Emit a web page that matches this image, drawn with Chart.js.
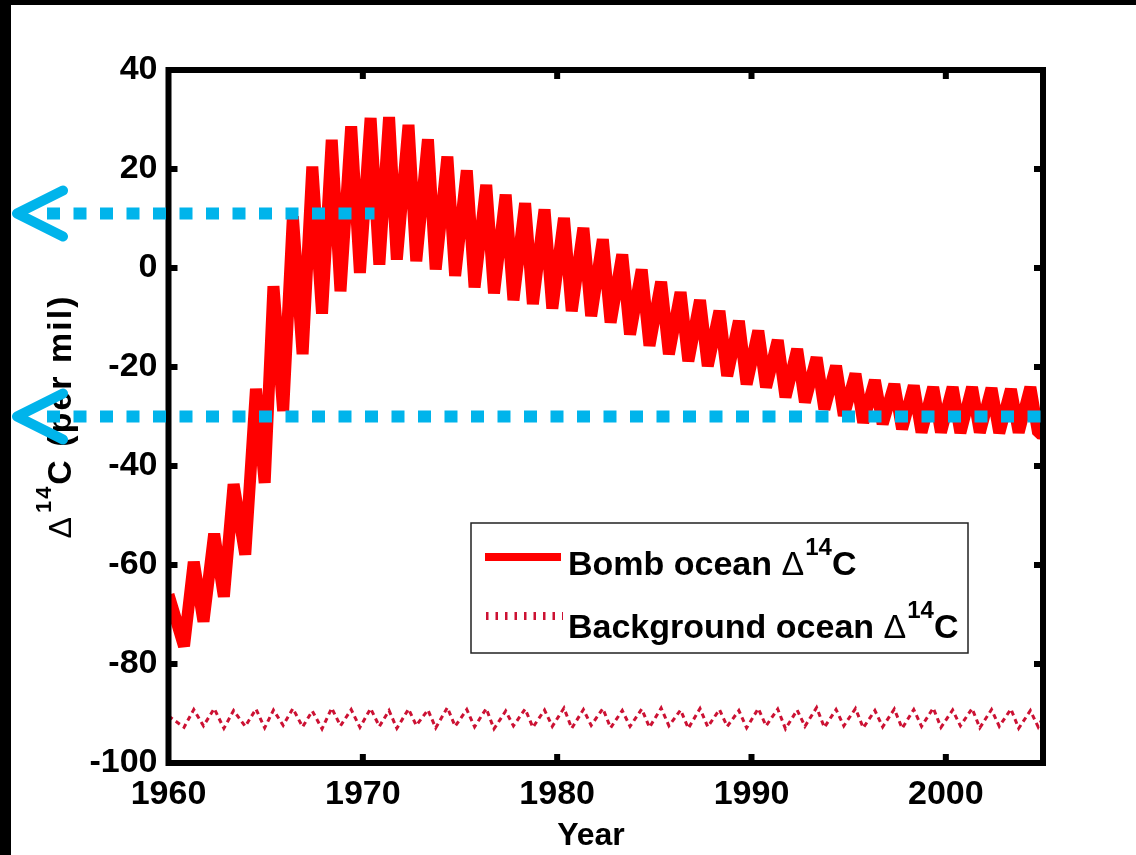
<!DOCTYPE html>
<html><head><meta charset="utf-8">
<script src="https://cdn.jsdelivr.net/npm/chart.js@4.4.0/dist/chart.umd.min.js"></script>
<style>
html,body{margin:0;padding:0;background:#000;width:1136px;height:855px;overflow:hidden;}
#c{position:absolute;left:11px;top:5px;background:#fff;}
</style></head><body>
<canvas id="c" width="1125" height="850"></canvas>
<script>
// ---- data ----
const sampleTimes = [
  1960.0,1960.8,1961.3,1961.8,1962.35,1962.85,1963.35,1963.95,1964.5,1964.95,
  1965.4,1965.9,1966.4,1966.9,1967.4,1967.9,1968.4,1968.85,1969.4,1969.85,
  1970.4,1970.85,1971.35,1971.75,1972.35,1972.75,1973.35,1973.75,1974.35,1974.75,
  1975.35,1975.75,1976.35,1976.75,1977.35,1977.75,1978.35,1978.75,1979.35,1979.75,
  1980.35,1980.75,1981.35,1981.75,1982.35,1982.75,1983.35,1983.75,1984.35,1984.75,
  1985.35,1985.75,1986.35,1986.75,1987.35,1987.75,1988.35,1988.75,1989.35,1989.75,
  1990.35,1990.75,1991.35,1991.75,1992.35,1992.75,1993.35,1993.75,1994.35,1994.75,
  1995.35,1995.75,1996.35,1996.75,1997.35,1997.75,1998.35,1998.75,1999.35,1999.75,
  2000.35,2000.75,2001.35,2001.75,2002.35,2002.75,2003.35,2003.75,2004.35,2004.75,
  2005.0
];
const bombOcean = [
  -66,-76.4,-59.4,-71.4,-53.7,-66.4,-43.7,-57.9,-24.4,-43.4,
  -3.7,-28.9,10.4,-17.4,20.5,-9.2,25.9,-4.7,28.6,-1.0,
  30.3,0.7,30.5,1.7,28.9,1.4,26.0,-0.3,22.5,-1.6,
  19.7,-3.9,16.8,-5.1,14.8,-6.5,13.1,-7.3,11.8,-8.2,
  10.1,-8.7,8.1,-9.7,5.8,-11.0,2.7,-13.4,-0.3,-15.7,
  -2.8,-17.4,-4.9,-18.8,-6.5,-19.8,-8.7,-21.8,-10.7,-23.5,
  -12.7,-24.1,-14.6,-26.1,-16.4,-27.1,-18.1,-28.5,-19.8,-29.8,
  -21.4,-31.2,-22.7,-31.5,-23.5,-32.5,-23.8,-33.2,-24.1,-33.2,
  -24.1,-33.3,-24.1,-33.2,-24.3,-33.3,-24.5,-33.2,-24.1,-33.4,
  -33.5
];
const backgroundOcean = [
  -90.5,-92.8,-89.2,-92.5,-89.0,-93.0,-89.4,-92.6,-89.1,-92.9,
  -89.3,-92.4,-89.0,-92.7,-89.5,-93.1,-88.9,-92.5,-89.2,-92.8,
  -89.0,-92.6,-89.4,-93.0,-89.1,-92.4,-89.3,-92.9,-88.8,-92.6,
  -89.2,-92.7,-89.0,-93.1,-89.5,-92.5,-89.1,-92.8,-89.3,-92.6,
  -88.9,-93.0,-89.2,-92.4,-89.0,-92.9,-89.4,-92.6,-89.1,-92.8,
  -88.9,-92.5,-89.3,-93.0,-89.0,-92.7,-89.2,-92.6,-89.4,-92.9,
  -89.0,-92.5,-89.1,-93.1,-89.3,-92.6,-88.8,-92.8,-89.2,-92.5,
  -89.0,-92.9,-89.4,-92.7,-89.1,-93.0,-89.2,-92.6,-88.9,-92.8,
  -89.3,-92.5,-89.0,-92.9,-89.2,-92.6,-89.1,-93.0,-89.4,-92.7,
  -90.8
];
const seriesNames = ['Bomb ocean', 'Background ocean'];
const xTickValues = [1960, 1970, 1980, 1990, 2000];
const yTickValues = [-100, -80, -60, -40, -20, 0, 20, 40];
const xRange = [1960, 2005];
const yRange = [-100, 40];
const guideLevels = [11, -30];
const guideEndYears = [1970.6, 2005];
const xTitle = 'Year';
const yTitleParts = ['\u0394', '14', 'C (per mil)'];

// ---- drawing ----
const FAM = '"Liberation Sans", Arial, Helvetica, sans-serif';
const BOMB_COLOR = '#ff0000';
const BG_COLOR = '#cc1133';
const GUIDE_COLOR = '#00b4eb';

function drawDeltaLabel(ctx, name, x, baseline, size) {
  ctx.textAlign = 'left'; ctx.textBaseline = 'alphabetic';
  ctx.font = `bold ${size}px ${FAM}`;
  ctx.fillText(name + ' ', x, baseline);
  x += ctx.measureText(name + ' ').width;
  ctx.font = `${size}px ${FAM}`;
  ctx.fillText(yTitleParts[0], x, baseline);
  x += ctx.measureText(yTitleParts[0]).width + 1;
  ctx.font = `bold ${Math.round(size * 0.7)}px ${FAM}`;
  ctx.fillText(yTitleParts[1], x, baseline - 20);
  x += ctx.measureText(yTitleParts[1]).width;
  ctx.font = `bold ${size}px ${FAM}`;
  ctx.fillText('C', x, baseline);
}

const decor = {
  id: 'decor',
  afterDatasetsDraw(chart) {
    const { ctx, chartArea: a, scales: { x, y } } = chart;
    ctx.save();
    ctx.fillStyle = '#000';
    ctx.strokeStyle = '#000';
    // frame
    ctx.lineWidth = 6;
    ctx.strokeRect(a.left, a.top, a.right - a.left, a.bottom - a.top);
    // inward ticks
    ctx.lineCap = 'butt';
    ctx.beginPath();
    xTickValues.forEach(v => {
      if (v === xRange[0] || v === xRange[1]) return;
      const px = x.getPixelForValue(v);
      ctx.moveTo(px, a.bottom); ctx.lineTo(px, a.bottom - 9);
      ctx.moveTo(px, a.top); ctx.lineTo(px, a.top + 9);
    });
    yTickValues.forEach(v => {
      if (v === yRange[0] || v === yRange[1]) return;
      const py = y.getPixelForValue(v);
      ctx.moveTo(a.left, py); ctx.lineTo(a.left + 9, py);
      ctx.moveTo(a.right, py); ctx.lineTo(a.right - 9, py);
    });
    ctx.stroke();

    // legend
    const lx = 460, ly = 518, lw = 497, lh = 130;
    ctx.fillStyle = '#fff';
    ctx.fillRect(lx, ly, lw, lh);
    ctx.lineWidth = 1.5; ctx.strokeStyle = '#222';
    ctx.strokeRect(lx, ly, lw, lh);
    ctx.strokeStyle = BOMB_COLOR; ctx.lineWidth = 8;
    ctx.beginPath(); ctx.moveTo(lx + 14, ly + 34); ctx.lineTo(lx + 90, ly + 34); ctx.stroke();
    ctx.strokeStyle = BG_COLOR; ctx.lineWidth = 8; ctx.setLineDash([2.5, 7]);
    ctx.beginPath(); ctx.moveTo(lx + 15, ly + 93); ctx.lineTo(lx + 92, ly + 93); ctx.stroke();
    ctx.setLineDash([]);
    ctx.fillStyle = '#000';
    drawDeltaLabel(ctx, seriesNames[0], lx + 97, ly + 52, 34);
    drawDeltaLabel(ctx, seriesNames[1], lx + 97, ly + 115, 34);

    // y title (rotated, with superscript)
    ctx.save();
    ctx.translate(60, (a.top + a.bottom) / 2);
    ctx.rotate(-Math.PI / 2);
    ctx.letterSpacing = '2px';
    const fMain = `bold 34px ${FAM}`, fDelta = `32px ${FAM}`, fSup = `bold 22px ${FAM}`;
    ctx.font = fDelta; const w0 = ctx.measureText(yTitleParts[0]).width + 2;
    ctx.font = fSup; const w1 = ctx.measureText(yTitleParts[1]).width;
    ctx.font = fMain; const w2 = ctx.measureText(yTitleParts[2]).width;
    let tx = -(w0 + w1 + w2) / 2;
    ctx.textBaseline = 'alphabetic'; ctx.textAlign = 'left';
    ctx.font = fDelta; ctx.fillText(yTitleParts[0], tx, 0); tx += w0;
    ctx.font = fSup; ctx.fillText(yTitleParts[1], tx, -20); tx += w1;
    ctx.font = fMain; ctx.fillText(yTitleParts[2], tx, 0);
    ctx.restore();

    // x title
    ctx.font = `bold 32px ${FAM}`;
    ctx.textAlign = 'center'; ctx.textBaseline = 'alphabetic';
    ctx.fillText(xTitle, 580, 840);

    // blue guide arrows
    ctx.strokeStyle = GUIDE_COLOR;
    guideLevels.forEach((lv, i) => {
      const py = y.getPixelForValue(lv);
      const xe = x.getPixelForValue(guideEndYears[i]);
      ctx.lineWidth = 12; ctx.lineCap = 'butt'; ctx.setLineDash([13, 13.5]);
      ctx.beginPath(); ctx.moveTo(36, py); ctx.lineTo(xe, py); ctx.stroke();
      ctx.setLineDash([]);
      ctx.lineWidth = 10; ctx.lineCap = 'round'; ctx.lineJoin = 'round';
      ctx.beginPath(); ctx.moveTo(52, py - 23); ctx.lineTo(6, py); ctx.lineTo(52, py + 23); ctx.stroke();
    });
    ctx.restore();
  }
};

const tickFont = { family: FAM, size: 34, weight: 'bold' };

new Chart(document.getElementById('c'), {
  type: 'line',
  data: {
    datasets: [
      {
        label: seriesNames[0],
        data: sampleTimes.map((t, i) => ({ x: t, y: bombOcean[i] })),
        borderColor: BOMB_COLOR, borderWidth: 12, pointRadius: 0, tension: 0,
        borderJoinStyle: 'bevel', fill: false
      },
      {
        label: seriesNames[1],
        data: sampleTimes.map((t, i) => ({ x: t, y: backgroundOcean[i] })),
        borderColor: BG_COLOR, borderWidth: 3, borderDash: [5, 4], pointRadius: 0, tension: 0,
        fill: false
      }
    ]
  },
  options: {
    responsive: false, animation: false, devicePixelRatio: 1,
    layout: { padding: { top: 65, right: 93, left: 0, bottom: 0 } },
    plugins: { legend: { display: false }, tooltip: { enabled: false } },
    scales: {
      x: {
        type: 'linear', min: xRange[0], max: xRange[1],
        afterBuildTicks: s => { s.ticks = xTickValues.map(v => ({ value: v })); },
        afterFit: s => { s.height = 92; },
        grid: { display: false, drawTicks: false }, border: { display: false },
        ticks: { font: tickFont, color: '#000', padding: 11, maxRotation: 0, autoSkip: false, callback: v => String(v) }
      },
      y: {
        type: 'linear', min: yRange[0], max: yRange[1],
        afterBuildTicks: s => { s.ticks = yTickValues.map(v => ({ value: v })); },
        afterFit: s => { s.width = 157.5; },
        grid: { display: false, drawTicks: false }, border: { display: false },
        ticks: { font: tickFont, color: '#000', padding: 11, autoSkip: false, callback: v => String(v) }
      }
    }
  },
  plugins: [decor]
});
</script>
</body></html>
